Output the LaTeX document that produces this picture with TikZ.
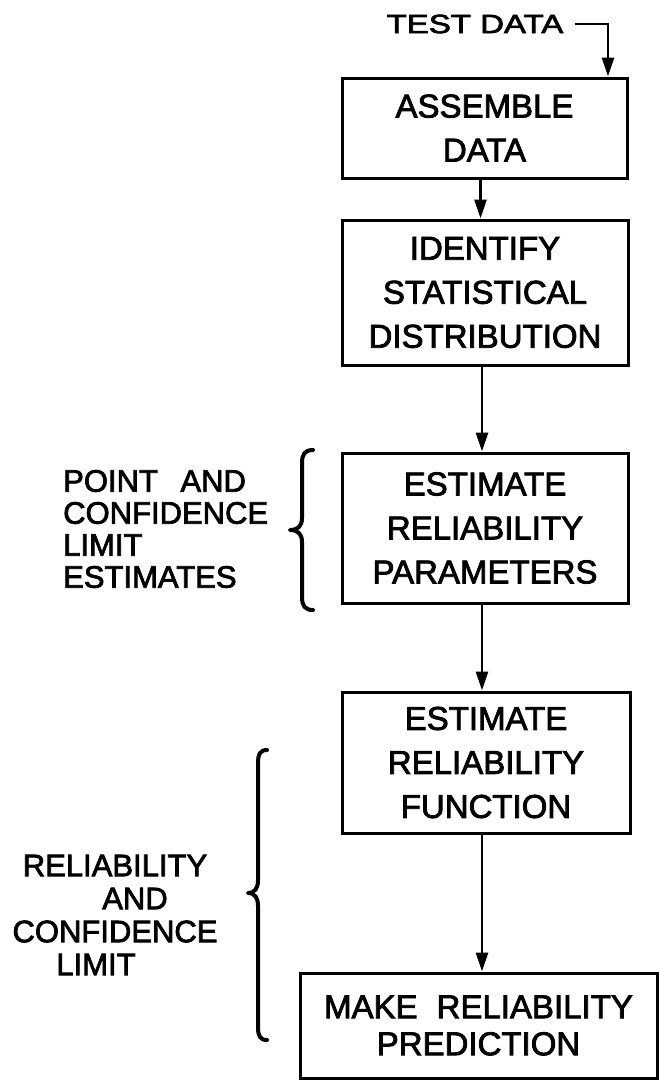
\documentclass[tikz,border=0pt]{standalone}
\usepackage{fontspec}
\setmainfont{Liberation Sans}[FakeBold=2.4]
\usetikzlibrary{arrows.meta}
\tikzset{
  boxnode/.style={draw, line width=3pt, rectangle, inner sep=0pt, align=center,
    font=\fontsize{33}{44}\selectfont},
  sidelabel/.style={inner sep=0pt, font=\fontsize{31}{32}\selectfont},
  arr/.style={line width=2.8pt, -{Triangle[length=19pt,width=12pt]}},
  bracepath/.style={line width=4pt, line cap=round, line join=round}
}
\begin{document}
\begin{tikzpicture}[x=1pt, y=-1pt]
\useasboundingbox (0,0) rectangle (659,1082);

% boxes
\node[boxnode, minimum width=285pt, minimum height=100pt] (b1) at (484.5,128) {ASSEMBLE\\DATA};
\node[boxnode, minimum width=286pt, minimum height=145pt] (b2) at (485,292.5) {IDENTIFY\\STATISTICAL\\DISTRIBUTION};
\node[boxnode, minimum width=286pt, minimum height=150pt] (b3) at (485,528) {ESTIMATE\\RELIABILITY\\PARAMETERS};
\node[boxnode, minimum width=288pt, minimum height=141pt] (b4) at (486,762.5) {ESTIMATE\\RELIABILITY\\FUNCTION};
\node[boxnode, minimum width=357pt, minimum height=105pt, font=\fontsize{33}{37}\selectfont] (b5) at (478.5,1025.5) {MAKE\hspace{0.3em} RELIABILITY\\PREDICTION};

% input
\node[inner sep=0pt, font=\fontsize{33}{36}\selectfont] (td) at (475,24) {\scalebox{1}[0.8]{TEST DATA}};
\coordinate (tdc) at (608,24);
\draw[arr] ([xshift=11pt]td.east) -- (tdc) -- (tdc |- b1.north);

% connectors
\draw[arr] ([xshift=-4pt]b1.south) -- ([xshift=-4pt]b1.south |- b2.north);
\draw[arr] ([xshift=-3pt]b2.south) -- ([xshift=-3pt]b2.south |- b3.north);
\draw[arr] ([xshift=-3pt]b3.south) -- ([xshift=-3pt]b3.south |- b4.north);
\draw[arr] ([xshift=-4pt]b4.south) -- ([xshift=-4pt]b4.south |- b5.north);

% side labels
\node[sidelabel, anchor=west, align=left] (l1) at (63,529)
  {POINT\hspace{0.45em} AND\\CONFIDENCE\\LIMIT\\ESTIMATES};
\node[sidelabel, align=center, font=\fontsize{31}{33}\selectfont] (l2) at (115,915)
  {RELIABILITY\\\hspace*{40pt}AND\\CONFIDENCE\\LIMIT\hspace*{38pt}};

% braces
\draw[bracepath] (313,450) .. controls (305,450) and (302,454) .. (302,463)
  -- (302,518) .. controls (302,526) and (298,530) .. (290,530)
  .. controls (298,530) and (302,534) .. (302,542)
  -- (302,597) .. controls (302,606) and (305,610) .. (313,610);
\draw[bracepath] (267,750) .. controls (260,750) and (258,754) .. (258,763)
  -- (258,880) .. controls (258,888) and (255,893) .. (248,893)
  .. controls (255,893) and (258,898) .. (258,906)
  -- (258,1027) .. controls (258,1036) and (260,1040) .. (267,1040);
\end{tikzpicture}
\end{document}
